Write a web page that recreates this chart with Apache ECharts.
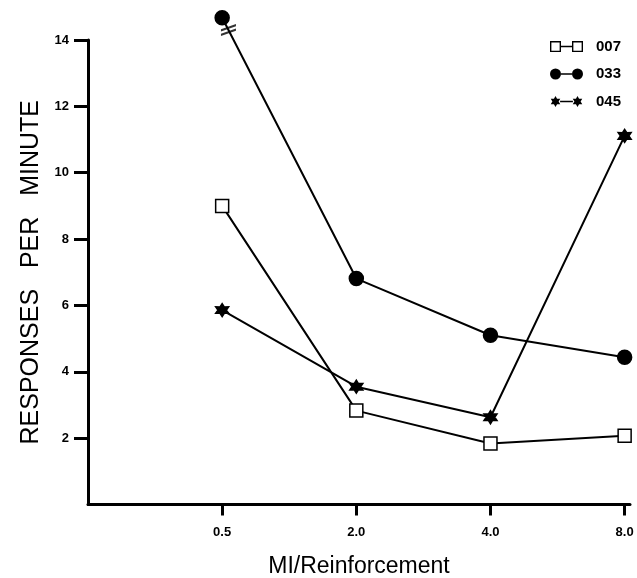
<!DOCTYPE html>
<html>
<head>
<meta charset="utf-8">
<script src="https://cdn.jsdelivr.net/npm/echarts@6/dist/echarts.min.js"></script>
<style>
  html, body { margin: 0; padding: 0; background: #fff; }
  #chart_resp { width: 637px; height: 578px; }
</style>
</head>
<body>
<div id="chart_resp"></div>
<script>
var myChart = echarts.init(document.getElementById('chart_resp'));
var fontsty = 'Liberation Sans';

// MI per reinforcement, placed at positions 1..4
var x_labels = ['0.5', '2.0', '4.0', '8.0'];
var x_pos = [1, 2, 3, 4];
var y_ticks = [2, 4, 6, 8, 10, 12, 14];

var names = ['007', '033', '045'];
var data_007 = [9.0, 2.83, 1.84, 2.07];
var data_033 = [14.67, 6.81, 5.10, 4.44];
var data_045 = [5.86, 3.55, 2.63, 11.11];
// axis break drawn on the 033 line just above 14
var break_pt = [[1.047, 14.3]];

var star = 'path://M6,0 L7.7,3.06 L11.2,3 L9.4,6 L11.2,9 L7.7,8.94 L6,12 L4.3,8.94 L0.8,9 L2.6,6 L0.8,3 L4.3,3.06 Z';
var icon_sq = 'path://M0,0 H12 V12 H0 Z M1.5,1.5 V10.5 H10.5 V1.5 Z M12,5.2 H24 V6.8 H12 Z M24,0 H36 V12 H24 Z M25.5,1.5 V10.5 H34.5 V1.5 Z';
var icon_ci = 'path://M0,6 A6,6 0 1,0 12,6 A6,6 0 1,0 0,6 Z M12,5.2 H24 V6.8 H12 Z M24,6 A6,6 0 1,0 36,6 A6,6 0 1,0 24,6 Z';
var icon_st = 'path://M6,0 L7.7,3.06 L11.2,3 L9.4,6 L11.2,9 L7.7,8.94 L6,12 L4.3,8.94 L0.8,9 L2.6,6 L0.8,3 L4.3,3.06 Z M11,5.2 H25 V6.8 H11 Z M30,0 L31.7,3.06 L35.2,3 L33.4,6 L35.2,9 L31.7,8.94 L30,12 L28.3,8.94 L24.8,9 L26.6,6 L24.8,3 L28.3,3.06 Z';
var breakMark = 'path://M0,6 L15,0 L15,2.5 L0,8.5 Z M0,11 L15,5 L15,7.5 L0,13.5 Z';

function pairs(vals) {
  return vals.map(function (v, i) { return [x_pos[i], v]; });
}

function lineSeries(name, vals, symbol, size, fill) {
  return {
    name: name,
    type: 'line',
    data: pairs(vals),
    clip: false,
    symbol: symbol,
    symbolSize: size,
    showAllSymbol: true,
    lineStyle: { color: '#000', width: 2 },
    itemStyle: { color: fill, borderColor: '#000', borderWidth: 1.5 },
    z: 3
  };
}

var option = {
  animation: false,
  backgroundColor: '#fff',
  grid: { left: 88, right: 7, top: 40, bottom: 73.5, outerBoundsMode: 'none' },
  legend: {
    orient: 'vertical',
    left: 545,
    top: 34,
    itemWidth: 33,
    itemHeight: 11,
    itemGap: 12.5,
    textStyle: { fontFamily: fontsty, fontWeight: 'bold', fontSize: 15, color: '#000', padding: [0, 0, 0, 8] },
    data: [
      { name: names[0], icon: icon_sq, itemStyle: { color: '#000', borderWidth: 0 } },
      { name: names[1], icon: icon_ci, itemStyle: { color: '#000', borderWidth: 0 } },
      { name: names[2], icon: icon_st, itemStyle: { color: '#000', borderWidth: 0 } }
    ]
  },
  xAxis: {
    type: 'value',
    min: 0,
    max: 4.04,
    splitLine: { show: false },
    axisLine: { lineStyle: { color: '#000', width: 3 } },
    axisTick: { show: true, customValues: x_pos, length: 11, lineStyle: { color: '#000', width: 3 } },
    axisLabel: {
      customValues: x_pos,
      margin: 21,
      color: '#000',
      fontFamily: fontsty,
      fontWeight: 'bold',
      fontSize: 13,
      formatter: function (v) { return x_labels[x_pos.indexOf(v)] || ''; }
    },
    name: 'MI/Reinforcement',
    nameLocation: 'middle',
    nameGap: 51,
    nameTextStyle: { fontFamily: fontsty, fontSize: 23, color: '#000' }
  },
  yAxis: {
    type: 'value',
    min: 0,
    max: 14,
    interval: 2,
    splitLine: { show: false },
    axisLine: { lineStyle: { color: '#000', width: 3 } },
    axisTick: { show: true, customValues: y_ticks, length: 14, lineStyle: { color: '#000', width: 3 } },
    axisLabel: {
      customValues: y_ticks,
      margin: 19,
      color: '#000',
      fontFamily: fontsty,
      fontWeight: 'bold',
      fontSize: 13
    },
    name: 'RESPONSES   PER   MINUTE',
    nameLocation: 'middle',
    nameGap: 44,
    nameTextStyle: { fontFamily: fontsty, fontSize: 25, color: '#000' }
  },
  series: [
    lineSeries(names[0], data_007, 'rect', 13, '#fff'),
    lineSeries(names[1], data_033, 'circle', 14, '#000'),
    lineSeries(names[2], data_045, star, 13, '#000'),
    {
      name: 'break',
      type: 'scatter',
      data: break_pt,
      clip: false,
      symbol: breakMark,
      symbolSize: [15, 13.5],
      symbolKeepAspect: true,
      itemStyle: { color: '#000' },
      z: 4
    }
  ]
};
myChart.setOption(option);
</script>
</body>
</html>
